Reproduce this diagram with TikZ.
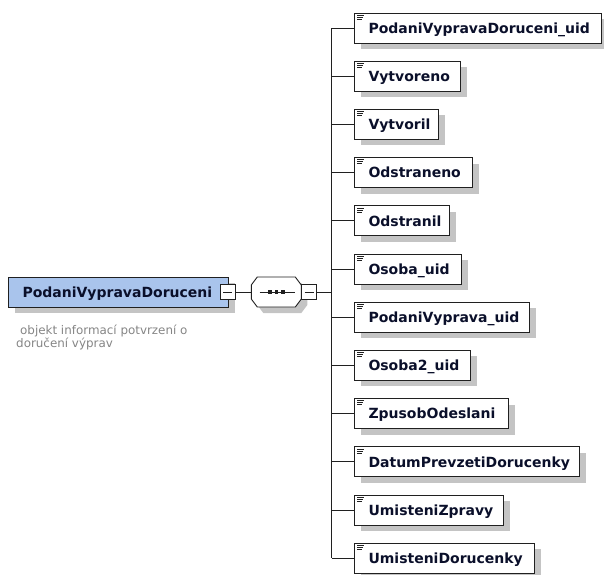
\documentclass[tikz,border=0pt]{standalone}
\usepackage{fontspec}
\setmainfont{DejaVu Sans}
\usetikzlibrary{shadows}
\definecolor{boxline}{HTML}{202020}
\definecolor{shadowgray}{HTML}{C4C4C4}
\definecolor{mainfill}{HTML}{A9C4EC}
\definecolor{desc}{HTML}{858585}
\definecolor{labeltext}{HTML}{0A0F2A}
\tikzset{
  shd/.style={general shadow={shadow xshift=6pt, shadow yshift=-6pt, fill=shadowgray}},
  elem/.style={draw=boxline, line width=1pt, fill=white, shd, anchor=west,
     minimum height=30pt, inner xsep=0pt, inner ysep=0pt, align=left,
     text height=10.5pt, text depth=0pt, font=\bfseries\fontsize{14}{16}\selectfont, text=labeltext},
  mainbox/.style={elem, fill=mainfill},
  minusbox/.style={draw=boxline, line width=0.9pt, fill=white, minimum width=15pt, minimum height=15pt,
     inner sep=0pt,
     path picture={\draw[line width=0.9pt] ([xshift=3pt]path picture bounding box.west) -- ([xshift=-3pt]path picture bounding box.east);}},
  seqanchor/.style={minimum width=50pt, minimum height=30pt, inner sep=0pt},
  octo/.style={draw=boxline, line width=0.9pt, fill=white},
  conn/.style={draw=boxline, line width=1pt},
  icon/.style={draw=boxline, line width=0.6pt},
  desctext/.style={text=desc, font=\fontsize{11.9}{13}\selectfont, inner sep=0pt, anchor=base west}
}
\begin{document}
\begin{tikzpicture}[x=1pt,y=-1pt]
\useasboundingbox (0,0) rectangle (604,574);
% main element
\node[mainbox, text width=220pt] (main) at (8,292) {\hspace*{14pt}PodaniVypravaDoruceni};
\node[minusbox] (mm) at (227.5,292) {};
\node[desctext] (d1) at (20,334) {objekt informací potvrzení o};
\node[desctext] (d2) at (16,347) {doručení výprav};
% sequence compositor
\node[seqanchor] (seq) at (276.5,292) {};
\fill[shadowgray] ([shift={(6,6)}]seq.west) -- ++(0,-7) -- ++(6,-8) -- ++(38,0) -- ++(6,8)
   -- ++(0,14) -- ++(-6,8) -- ++(-38,0) -- ++(-6,-8) -- cycle;
\draw[octo] (seq.west) -- ++(0,-7) -- ++(6,-8) -- ++(38,0) -- ++(6,8)
   -- ++(0,14) -- ++(-6,8) -- ++(-38,0) -- ++(-6,-8) -- cycle;
\draw[conn] (seq.center) ++(-17,0) coordinate (sl) -- ++(35,0) coordinate (sr);
\foreach \dx in {-6.5,0,6.5}{
  \fill[boxline] ([xshift=\dx pt]seq.center) ++(-1.8,-1.8) rectangle ++(3.6,3.6);
}
\node[minusbox] (sm) at (309,292) {};
\draw[conn] (mm.east) -- (seq.west);
\coordinate (vt) at (331.5,28);
\coordinate (vb) at (331.5,558.2);
\coordinate (vm) at (331.5,292);
\draw[conn] (sm.east) -- (vm);
\draw[conn] (vt) -- (vb);
% children
\foreach \i/\w/\t in {0/247/PodaniVypravaDoruceni\_uid, 1/106/Vytvoreno, 2/84/Vytvoril,
  3/118/Odstraneno, 4/95/Odstranil, 5/107/Osoba\_uid, 6/175/PodaniVyprava\_uid,
  7/116/Osoba2\_uid, 8/154/ZpusobOdeslani, 9/225/DatumPrevzetiDorucenky,
  10/149/UmisteniZpravy, 11/180/UmisteniDorucenky}{
  \pgfmathsetmacro{\cy}{28+\i*48.2}
  \node[elem, text width=\w pt] (c\i) at (354,\cy) {\hspace*{14pt}\t};
  \draw[conn] (c\i.west -| vt) -- (c\i.west);
  \draw[icon] ([shift={(3,2.5)}]c\i.north west) -- ++(7,0);
  \draw[icon] ([shift={(3,4.5)}]c\i.north west) -- ++(6,0);
  \draw[icon] ([shift={(3,6.5)}]c\i.north west) -- ++(5,0);
}
\end{tikzpicture}
\end{document}
